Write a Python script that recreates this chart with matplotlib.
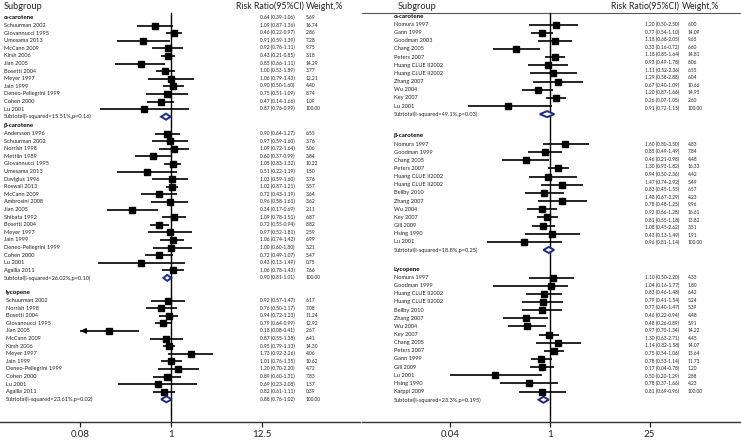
import matplotlib
matplotlib.use("Agg")
import matplotlib.pyplot as plt
from matplotlib.patches import Polygon
from matplotlib.ticker import NullLocator

plt.rcParams['font.family'] = ['Lato', 'DejaVu Sans']

# ---------------- data : left panel ----------------
L_alpha_studies = ["Schuurman 2002", "Giovannucci 1995", "Umesama 2013", "McCann 2009", "Kirsh 2006",
                   "Jian 2005", "Bosetti 2004", "Meyer 1997", "Jain 1999", "Deneo-Pellegrini 1999",
                   "Cohen 2000", "Lu 2001"]
L_alpha_rr = [0.64, 1.09, 0.46, 0.91, 0.92, 0.43, 0.85, 1.00, 1.06, 0.90, 0.75, 0.47]
L_alpha_lo = [0.39, 0.87, 0.22, 0.59, 0.76, 0.21, 0.66, 0.53, 0.79, 0.50, 0.51, 0.14]
L_alpha_hi = [1.06, 1.36, 0.97, 1.39, 1.11, 0.85, 1.11, 1.89, 1.43, 1.60, 1.09, 1.66]
L_alpha_w = [5.69, 16.74, 2.86, 7.28, 9.75, 3.18, 14.29, 3.77, 12.21, 4.40, 8.74, 1.09]
L_alpha_sub = [0.87, 0.76, 0.99]
L_alpha_sub_label = "Subtotal(I-squared=15.51%,p=0.16)"

L_beta_studies = ["Andersson 1996", "Schuurman 2002", "Norrish 1998", "Mettlin 1989", "Giovannucci 1995",
                  "Umesama 2013", "Daviglus 1996", "Roswall 2013", "McCann 2009", "Ambrosini 2008",
                  "Jian 2005", "Shibata 1992", "Bosetti 2004", "Meyer 1997", "Jain 1999",
                  "Deneo-Pellegrini 1999", "Cohen 2000", "Lu 2001", "Agallia 2011"]
L_beta_rr = [0.90, 0.97, 1.09, 0.60, 1.05, 0.51, 1.03, 1.02, 0.72, 0.96, 0.34, 1.09, 0.72, 0.97, 1.06,
             1.00, 0.72, 0.43, 1.06]
L_beta_lo = [0.64, 0.59, 0.72, 0.37, 0.83, 0.22, 0.59, 0.87, 0.43, 0.58, 0.17, 0.78, 0.55, 0.52, 0.74,
             0.60, 0.49, 0.13, 0.78]
L_beta_hi = [1.27, 1.60, 1.64, 0.99, 1.32, 1.19, 1.60, 1.21, 1.19, 1.61, 0.69, 1.51, 0.94, 1.81, 1.42,
             1.80, 1.07, 1.49, 1.43]
L_beta_w = [6.55, 3.76, 5.06, 3.84, 10.22, 1.50, 3.76, 3.57, 3.64, 3.62, 2.11, 6.87, 8.82, 2.59, 6.99,
            3.21, 5.47, 0.75, 7.66]
L_beta_sub = [0.90, 0.81, 1.01]
L_beta_sub_label = "Subtotal(I-squared=26.02%,p=0.10)"

L_lyc_studies = ["Schuurman 2002", "Norrish 1998", "Bosetti 2004", "Giovannucci 1995", "Jian 2005",
                 "McCann 2009", "Kirsh 2006", "Meyer 1997", "Jain 1999", "Deneo-Pellegrini 1999",
                 "Cohen 2000", "Lu 2001", "Agallia 2011"]
L_lyc_rr = [0.92, 0.76, 0.94, 0.79, 0.18, 0.87, 0.95, 1.73, 1.01, 1.20, 0.89, 0.69, 0.82]
L_lyc_lo = [0.57, 0.50, 0.72, 0.64, 0.08, 0.55, 0.79, 0.92, 0.76, 0.70, 0.60, 0.23, 0.61]
L_lyc_hi = [1.47, 1.17, 1.23, 0.99, 0.41, 1.38, 1.13, 3.26, 1.35, 2.20, 1.31, 2.08, 1.11]
L_lyc_w = [6.17, 7.08, 11.24, 12.92, 2.67, 6.41, 14.30, 4.06, 10.62, 4.72, 7.83, 1.57, 0.39]
L_lyc_sub = [0.88, 0.76, 1.02]
L_lyc_sub_label = "Subtotal(I-squared=23.61%,p=0.02)"

# ---------------- data : right panel ----------------
R_alpha_studies = ["Nomura 1997", "Gann 1999", "Goodman 2003", "Chang 2005", "Peters 2007",
                   "Huang CLUE II2002", "Huang CLUE II2002", "Zhang 2007", "Wu 2004", "Key 2007", "Lu 2001"]
R_alpha_rr = [1.20, 0.77, 1.18, 0.33, 1.18, 0.93, 1.11, 1.29, 0.67, 1.20, 0.26]
R_alpha_lo = [0.50, 0.54, 0.68, 0.16, 0.85, 0.49, 0.52, 0.58, 0.40, 0.87, 0.07]
R_alpha_hi = [2.50, 1.10, 2.05, 0.72, 1.64, 1.78, 2.36, 2.88, 1.09, 1.66, 1.05]
R_alpha_w = [6.00, 14.09, 9.65, 6.60, 14.81, 8.06, 6.55, 6.04, 10.66, 14.95, 2.60]
R_alpha_sub = [0.91, 0.72, 1.15]
R_alpha_sub_label = "Subtotal(I-squared=49.1%,p=0.03)"

R_beta_studies = ["Nomura 1997", "Goodman 1999", "Chang 2005", "Peters 2007", "Huang CLUE II2002",
                  "Huang CLUE II2002", "Beilby 2010", "Zhang 2007", "Wu 2004", "Key 2007", "Gill 2009",
                  "Hsing 1990", "Lu 2001"]
R_beta_rr = [1.60, 0.85, 0.46, 1.30, 0.94, 1.47, 0.83, 1.48, 0.78, 0.92, 0.81, 1.08, 0.43]
R_beta_lo = [0.80, 0.49, 0.21, 0.93, 0.50, 0.74, 0.45, 0.67, 0.48, 0.66, 0.55, 0.45, 0.13]
R_beta_hi = [3.50, 1.49, 0.98, 1.82, 2.36, 2.92, 1.55, 3.29, 1.25, 1.28, 1.18, 2.62, 1.49]
R_beta_w = [4.83, 7.84, 4.48, 16.33, 4.42, 5.49, 6.57, 4.23, 9.96, 16.61, 13.82, 3.51, 1.91]
R_beta_sub = [0.96, 0.81, 1.14]
R_beta_sub_label = "Subtotal(I-squared=18.8%,p=0.25)"

R_lyc_studies = ["Nomura 1997", "Goodman 1999", "Huang CLUE II2002", "Huang CLUE II2002", "Beilby 2010",
                 "Zhang 2007", "Wu 2004", "Key 2007", "Chang 2005", "Peters 2007", "Gann 1999",
                 "Gill 2009", "Lu 2001", "Hsing 1990", "Karppi 2009"]
R_lyc_rr = [1.10, 1.04, 0.83, 0.79, 0.77, 0.46, 0.48, 0.97, 1.30, 1.14, 0.75, 0.78, 0.17, 0.50, 0.78]
R_lyc_lo = [0.50, 0.16, 0.46, 0.41, 0.40, 0.22, 0.26, 0.70, 0.63, 0.82, 0.54, 0.53, 0.04, 0.20, 0.37]
R_lyc_hi = [2.20, 1.77, 1.48, 1.54, 1.47, 0.94, 0.89, 1.34, 2.71, 1.58, 1.06, 1.14, 0.78, 1.29, 1.66]
R_lyc_w = [4.33, 1.80, 6.42, 5.24, 5.39, 4.48, 5.91, 14.22, 4.45, 14.07, 13.64, 11.73, 1.20, 2.88, 4.23]
R_lyc_sub = [0.81, 0.69, 0.96]
R_lyc_sub_label = "Subtotal(I-squared=23.3%,p=0.195)"

L_ticks = [0.08, 1, 12.5]
L_ticklabels = ["0.08", "1", "12.5"]
R_ticks = [0.04, 1, 25]
R_ticklabels = ["0.04", "1", "25"]

# ---------------- layout (pixels) ----------------
W, H = 741, 443
AXIS_Y = 422
TOP_Y = 13
TEXT_SP = 7.6
DIAMOND_COLOR = "#1d2b80"

fig = plt.figure(figsize=(W / 100, H / 100), dpi=100)

overlay = fig.add_axes([0, 0, 1, 1])
overlay.set_xlim(0, W)
overlay.set_ylim(H, 0)
overlay.axis("off")

panels = [
    dict(x0=0, x1=360, one=171, dec=82.6, ticks=L_ticks, ticklabels=L_ticklabels, arrow_at=0.08,
         label_x=3.5, head_x=3.5, head_y=6.5, rr_head_x=236, w_head_x=306, val_x=260, w_x=306,
         top_line=False, row_sp=7.6, val_fs=3.5,
         groups=[
             ("\u03b1-carotene", L_alpha_studies, L_alpha_rr, L_alpha_lo, L_alpha_hi, L_alpha_w,
              L_alpha_sub, L_alpha_sub_label, 17.5, 25.5, 17.5, 0),
             ("\u03b2-carotene", L_beta_studies, L_beta_rr, L_beta_lo, L_beta_hi, L_beta_w,
              L_beta_sub, L_beta_sub_label, 125.5, 133.5, 133.5, 0),
             ("lycopene", L_lyc_studies, L_lyc_rr, L_lyc_lo, L_lyc_hi, L_lyc_w,
              L_lyc_sub, L_lyc_sub_label, 292.7, 300.5, 300.5, 2),
         ]),
    dict(x0=362, x1=741, one=550, dec=71.2, ticks=R_ticks, ticklabels=R_ticklabels, arrow_at=None,
         label_x=394, head_x=398, head_y=6, rr_head_x=611, w_head_x=682, val_x=645, w_x=688,
         top_line=True, row_sp=8.15, val_fs=3.4,
         groups=[
             ("\u03b1-carotene", R_alpha_studies, R_alpha_rr, R_alpha_lo, R_alpha_hi, R_alpha_w,
              R_alpha_sub, R_alpha_sub_label, 16, 24.5, 24.5, 0),
             ("\u03b2-carotene", R_beta_studies, R_beta_rr, R_beta_lo, R_beta_hi, R_beta_w,
              R_beta_sub, R_beta_sub_label, 135, 144, 144, 0),
             ("Lycopene", R_lyc_studies, R_lyc_rr, R_lyc_lo, R_lyc_hi, R_lyc_w,
              R_lyc_sub, R_lyc_sub_label, 269, 277.5, 277.5, 0),
         ]),
]

LABEL_FS = 4.1
HEAD_FS = 6.6
TXT_COLOR = "#222222"

for p in panels:
    ax = fig.add_axes([p["x0"] / W, (H - AXIS_Y) / H, (p["x1"] - p["x0"]) / W, AXIS_Y / H])
    ax.set_xscale("log")
    ax.set_xlim(10 ** ((p["x0"] - p["one"]) / p["dec"]), 10 ** ((p["x1"] - p["one"]) / p["dec"]))
    ax.set_ylim(AXIS_Y, 0)
    ax.patch.set_alpha(0)
    for s in ("top", "left", "right"):
        ax.spines[s].set_visible(False)
    ax.spines["bottom"].set_color("#333333")
    ax.spines["bottom"].set_linewidth(1.0)
    ax.set_yticks([])
    ax.set_xticks(p["ticks"])
    ax.set_xticklabels(p["ticklabels"])
    ax.xaxis.set_minor_locator(NullLocator())
    ax.tick_params(axis="x", direction="out", length=3.5, width=0.9, labelsize=7, pad=2.5,
                   colors="#222222")

    # reference line at RR = 1
    ax.plot([1, 1], [TOP_Y, AXIS_Y], color="black", lw=1.0, zorder=1)

    # headers
    overlay.text(p["head_x"], p["head_y"], "Subgroup", fontsize=HEAD_FS, va="center", ha="left",
                 color=TXT_COLOR)
    overlay.text(p["rr_head_x"], p["head_y"], "Risk Ratio(95%CI)", fontsize=HEAD_FS - 0.3,
                 va="center", ha="left", color=TXT_COLOR)
    overlay.text(p["w_head_x"], p["head_y"], "Weight,%", fontsize=HEAD_FS - 0.3, va="center",
                 ha="left", color=TXT_COLOR)
    if p["top_line"]:
        overlay.plot([p["x0"], p["x1"]], [TOP_Y, TOP_Y], color="#555555", lw=0.8)

    for (title, studies, rr, lo, hi, w, sub, sub_label, head_y, first_y, text_y0, indent) in p["groups"]:
        lx = p["label_x"] + indent
        overlay.text(lx, head_y, title, fontsize=LABEL_FS + 0.3, fontweight="bold", va="center",
                     ha="left", color="black")
        n = len(studies)
        for i in range(n):
            y = first_y + i * p["row_sp"]
            overlay.text(lx, y, studies[i], fontsize=LABEL_FS, va="center", ha="left", color=TXT_COLOR)
            ax.plot([lo[i], hi[i]], [y, y], color="black", lw=1.2, solid_capstyle="butt", zorder=2)
            ax.plot([rr[i]], [y], marker="s", ms=4.6, color="black", zorder=3)
            if p["arrow_at"] is not None and lo[i] <= p["arrow_at"]:
                ax.annotate("", xy=(lo[i], y), xytext=(lo[i] * 1.2, y),
                            arrowprops=dict(arrowstyle="-|>,head_length=0.3,head_width=0.15",
                                            color="black", lw=1.1, shrinkA=0, shrinkB=0), zorder=3)
        ys = first_y + n * p["row_sp"]
        overlay.text(lx, ys, sub_label, fontsize=LABEL_FS, va="center", ha="left", color=TXT_COLOR)
        est, slo, shi = sub
        dh = 3.0
        ax.add_patch(Polygon([(slo, ys), (est, ys - dh), (shi, ys), (est, ys + dh)], closed=True,
                             facecolor="white", edgecolor=DIAMOND_COLOR, lw=1.4, zorder=3))

        # value / weight column (its own row spacing)
        vals = list(zip(rr, lo, hi, w)) + [(est, slo, shi, 100.00)]
        for j, (a, b, c, d) in enumerate(vals):
            ty = text_y0 + j * TEXT_SP
            overlay.text(p["val_x"], ty, f"{a:.2f} ({b:.2f}-{c:.2f})", fontsize=p["val_fs"],
                         va="center", ha="left", color=TXT_COLOR)
            overlay.text(p["w_x"], ty, f"{d:.2f}", fontsize=p["val_fs"], va="center", ha="left",
                         color=TXT_COLOR)

fig.savefig("out.png", dpi=100)
